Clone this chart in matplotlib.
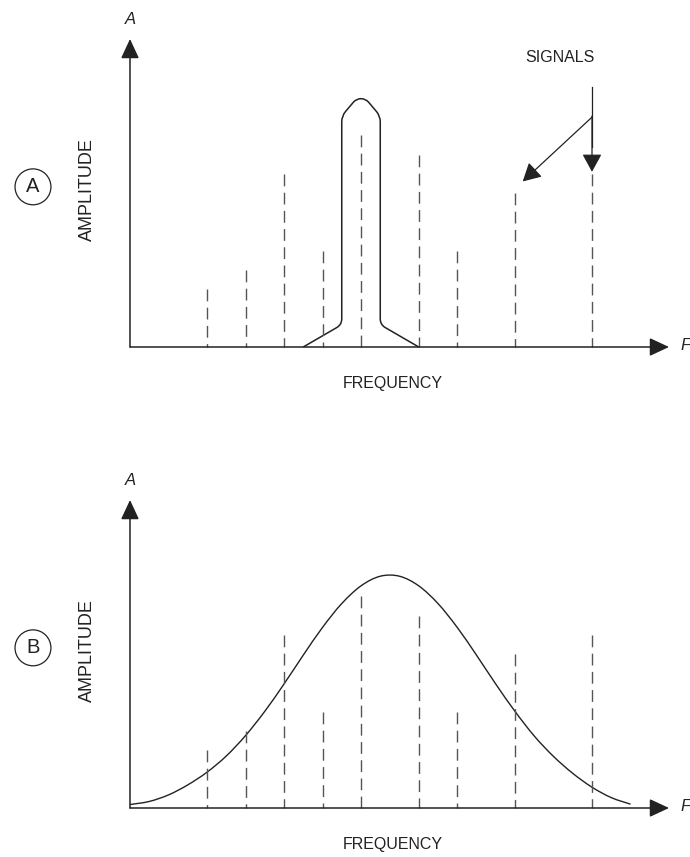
import numpy as np
import matplotlib.pyplot as plt
from matplotlib.path import Path
from matplotlib.patches import PathPatch

plt.rcParams['font.family'] = ['Liberation Sans', 'DejaVu Sans']

# signals on the frequency axis (same set in both panels)
sig_freq = [2, 3, 4, 5, 6, 7.5, 8.5, 10, 12]
sig_amp = [1.5, 2, 4.5, 2.5, 5.5, 5, 2.5, 4, 4.5]

# narrow filter outline (panel A)
filt_freq = [4.5, 5.5, 5.5, 5.88, 6.12, 6.5, 6.5, 7.5]
filt_amp = [0, 0.58, 6.0, 6.45, 6.45, 6.0, 0.58, 0]

# wide filter response (panel B), read every 0.5 unit
curve_freq = [0, 0.5, 1, 1.5, 2, 2.5, 3, 3.5, 4, 4.5, 5, 5.5, 6, 6.5,
              7, 7.5, 8, 8.5, 9, 9.5, 10, 10.5, 11, 11.5, 12, 12.5, 13]
curve_amp = [0.09, 0.17, 0.34, 0.60, 0.93, 1.35, 1.88, 2.51, 3.22, 3.97,
             4.69, 5.31, 5.77, 6.02, 6.02, 5.77, 5.31, 4.69, 3.97, 3.22,
             2.51, 1.87, 1.34, 0.90, 0.54, 0.27, 0.10]

panel_tags = ['A', 'B']

INK = '#222222'
DASH = '#555555'


def rounded_path(xs, ys, r):
    # polyline with the inner corners rounded off
    pts = np.column_stack([xs, ys]).astype(float)
    verts = [pts[0]]
    codes = [Path.MOVETO]
    for i in range(1, len(pts) - 1):
        p, v, n = pts[i - 1], pts[i], pts[i + 1]
        l1 = np.hypot(*(p - v))
        l2 = np.hypot(*(n - v))
        rr = min(r, l1 / 2, l2 / 2)
        verts += [v + rr * (p - v) / l1, v, v + rr * (n - v) / l2]
        codes += [Path.LINETO, Path.CURVE3, Path.CURVE3]
    verts.append(pts[-1])
    codes.append(Path.LINETO)
    return Path(verts, codes)


def smooth_path(xs, ys):
    # catmull-rom through the points, drawn as cubic beziers
    pts = np.column_stack([xs, ys]).astype(float)
    pad = np.vstack([pts[0], pts, pts[-1]])
    verts = [pts[0]]
    codes = [Path.MOVETO]
    for i in range(len(pts) - 1):
        p0, p1, p2, p3 = pad[i], pad[i + 1], pad[i + 2], pad[i + 3]
        verts += [p1 + (p2 - p0) / 6, p2 - (p3 - p1) / 6, p2]
        codes += [Path.CURVE4] * 3
    return Path(verts, codes)


W, H = 690, 857
fig = plt.figure(figsize=(W / 100, H / 100), dpi=100)

# one data unit = 38.5 px in both directions
unit = 38.5
origins = [(130, 347), (130, 808)]

axes = []
for (ox, oy), tag in zip(origins, panel_tags):
    ax = fig.add_axes([ox / W, (H - oy) / H, 14 * unit / W, 8 * unit / H])
    ax.set_xlim(0, 14)
    ax.set_ylim(0, 8)
    ax.axis('off')

    arrow = dict(arrowstyle='-|>,head_length=0.6,head_width=0.28',
                 mutation_scale=20, lw=1.1, color=INK, shrinkA=0, shrinkB=0)
    ax.annotate('', xy=(14, 0), xytext=(0, 0), arrowprops=arrow,
                annotation_clip=False)
    ax.annotate('', xy=(0, 8), xytext=(0, 0), arrowprops=arrow,
                annotation_clip=False)

    ax.text(0, 8.5, 'A', style='italic', ha='center', va='center',
            fontsize=12, color=INK)
    ax.text(14.3, 0.05, 'F', style='italic', ha='left', va='center',
            fontsize=12, color=INK)
    ax.text(6.83, -0.95, 'FREQUENCY', ha='center', va='center',
            fontsize=11.5, color=INK)
    ax.text(-1.1, 4.1, 'AMPLITUDE', rotation=90, ha='center', va='center',
            fontsize=13, color=INK)
    ax.text(-2.52, 4.16, tag, ha='center', va='center', fontsize=14.5,
            color=INK, clip_on=False,
            bbox=dict(boxstyle='circle,pad=0.42', fc='white', ec=INK, lw=0.9))

    for f, a in zip(sig_freq, sig_amp):
        ax.plot([f, f], [a, 0], color=DASH, lw=1.0,
                linestyle=(0, (8.5, 4.6)), clip_on=False)
    axes.append(ax)

axA, axB = axes

# panel A: narrow filter and the SIGNALS callout
axA.add_patch(PathPatch(rounded_path(filt_freq, filt_amp, 0.15),
                        fc='none', ec=INK, lw=1.1, clip_on=False))
axA.text(11.17, 7.53, 'SIGNALS', ha='center', va='center',
         fontsize=11.5, color=INK)
axA.plot([12, 12], [6.75, 5.2], color=INK, lw=0.9)
callout = dict(arrowstyle='-|>,head_length=0.55,head_width=0.3',
               mutation_scale=20, lw=0.9, color=INK, shrinkA=0, shrinkB=0)
axA.annotate('', xy=(12, sig_amp[-1] + 0.05), xytext=(12, 6.0),
             arrowprops=callout)
axA.annotate('', xy=(10.2, 4.3), xytext=(12, 5.97), arrowprops=callout)

# panel B: wide filter response
axB.add_patch(PathPatch(smooth_path(curve_freq, curve_amp),
                        fc='none', ec=INK, lw=1.0, clip_on=False))

fig.savefig('out.png', dpi=100)
